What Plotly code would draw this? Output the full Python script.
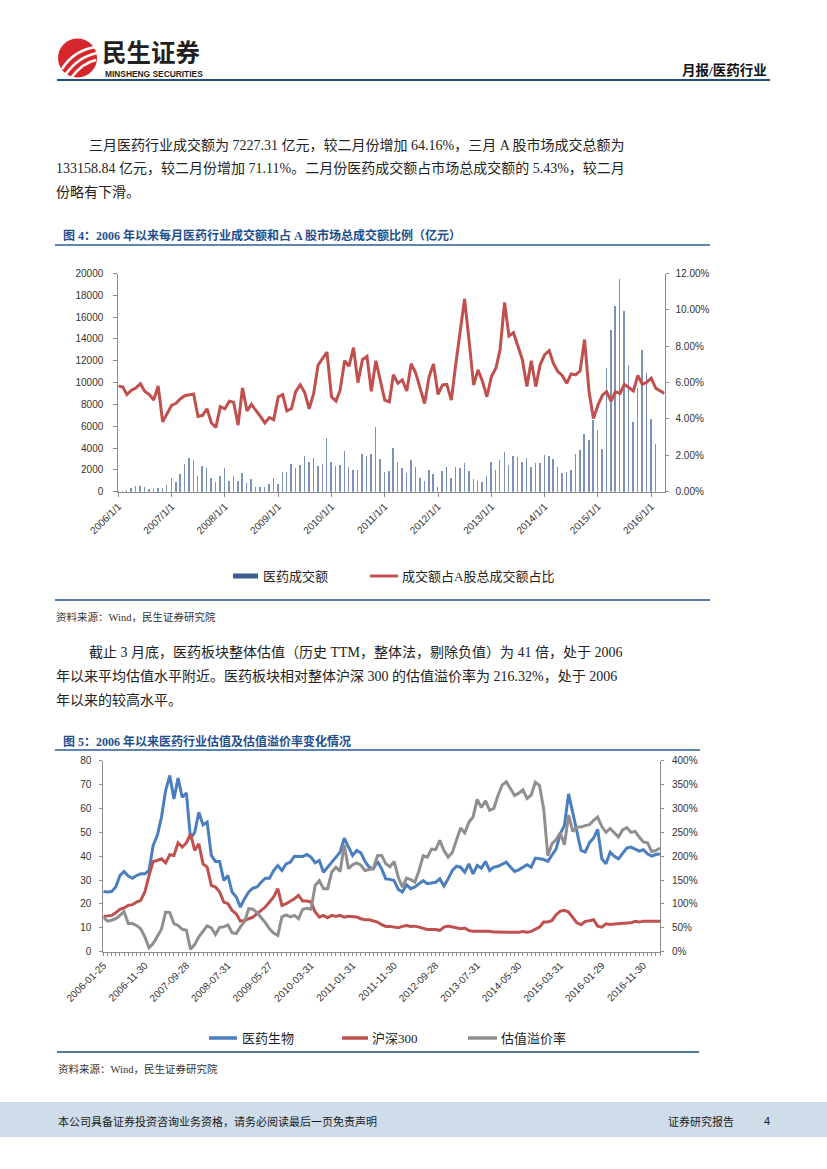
import plotly.graph_objects as go
import pandas as pd

W, H = 827, 1169
def px(x): return x / W
def py(y): return 1 - y / H

# ---------------- Chart 1 data (monthly, 2006/1 - 2016/4) ----------------
turnover = [120,150,200,340,580,580,520,280,280,340,
            430,680,1260,890,1660,2580,3140,2980,1450,2370,
            2180,1290,890,1450,2180,1050,1510,1050,1750,830,
            1200,520,460,490,740,1260,740,1820,1820,2550,
            2215,2520,3290,2740,3110,2430,2600,4980,2800,2430,
            2490,3750,2310,2060,2060,3510,3290,3510,5970,3050,
            1820,1910,4030,2740,2180,1750,2950,2340,1260,1050,
            2060,1660,520,1970,2280,1320,2340,2180,2650,1970,
            1200,1050,950,1510,2740,2060,2950,3660,2520,3290,
            3260,2740,3140,2280,2650,2680,3420,3300,3050,2280,
            1750,1880,2000,3500,3900,5360,4830,6580,5720,3970,
            11360,14890,17050,19510,16590,11660,6430,9570,13050,10890,
            6740,4430,None,None]
ratio = [5.82,5.76,5.34,5.58,5.70,5.94,5.52,5.34,5.04,5.82,
         3.84,4.26,4.74,4.86,5.10,5.28,5.34,5.37,4.14,4.20,
         4.56,3.78,3.54,4.68,4.56,4.98,4.92,3.66,5.70,4.44,
         4.80,4.50,4.14,3.78,4.08,3.96,5.22,5.34,4.44,4.56,
         5.52,5.88,5.46,4.56,5.40,6.96,7.32,7.68,5.22,4.98,
         5.58,7.20,6.90,7.92,6.00,7.26,7.44,5.52,7.20,6.18,
         5.04,4.94,6.43,5.96,6.15,5.54,7.04,6.52,5.69,4.85,
         6.33,7.02,5.35,5.87,5.90,5.04,6.98,8.83,10.60,8.28,
         5.87,6.70,6.06,5.22,6.33,6.80,7.81,10.41,8.56,8.74,
         8.00,7.26,5.78,7.20,5.78,6.98,7.54,7.76,7.07,6.61,
         6.39,5.96,6.48,6.43,6.65,8.37,5.50,4.02,4.76,5.31,
         5.50,4.98,5.50,5.41,5.91,5.72,5.54,6.39,5.91,6.02,
         6.24,5.69,5.54,5.41]
months_1 = [f"{2006 + i // 12}-{i % 12 + 1:02d}-01" for i in range(len(ratio))]
year_ticks_1 = [f"{y}-01-01" for y in range(2006, 2017)]
year_labels_1 = [f"{y}/1/1" for y in range(2006, 2017)]

# ---------------- Chart 2 data (monthly, 2006-01 - 2017-03) ----------------
pharma_pe = [25.2,25.0,25.2,27.1,31.9,33.6,31.7,30.8,31.9,32.6,
             32.6,34.0,44.5,48.7,56.3,67.5,73.8,64.0,72.7,64.7,
             66.5,47.3,50.0,58.4,53.1,54.3,40.3,37.8,37.8,29.8,
             31.9,25.0,22.9,18.7,22.2,25.0,26.6,27.1,29.1,30.8,
             30.8,34.0,36.1,34.0,36.8,37.5,40.0,40.0,39.9,40.7,
             39.6,37.2,38.2,33.3,35.4,37.5,39.6,41.7,47.6,43.8,
             40.3,42.4,41.4,37.8,35.4,34.7,37.8,34.7,30.5,30.3,
             29.8,26.1,25.0,28.0,26.4,27.1,28.5,29.8,28.5,28.9,
             29.1,30.5,27.5,30.5,34.0,35.8,35.4,33.3,36.8,32.6,
             36.1,35.0,37.8,34.0,35.4,35.8,36.8,37.5,35.5,33.6,
             34.3,35.4,36.4,35.4,39.2,38.9,38.6,37.8,40.3,43.1,
             49.4,52.9,66.1,57.7,50.3,42.4,41.7,45.6,47.6,51.2,
             38.9,36.8,41.7,40.0,38.9,41.0,43.4,43.8,43.1,42.1,
             42.7,41.0,40.0,40.7,40.9]
hs300_pe = [14.8,14.9,15.2,16.3,17.7,18.3,19.4,19.7,20.8,21.5,
            25.0,31.9,37.8,38.2,38.9,37.2,40.6,40.3,45.6,43.8,
            45.6,49.4,42.4,45.2,36.8,35.4,27.8,27.1,25.0,20.8,
            20.1,17.3,15.9,12.8,13.1,13.8,14.5,15.9,17.3,18.7,
            20.8,22.9,26.4,19.4,20.1,21.1,22.2,23.6,21.2,21.2,
            20.8,16.6,14.5,15.2,14.2,15.2,14.8,15.2,14.5,14.8,
            14.8,14.5,13.8,13.4,13.4,12.8,12.4,11.3,10.6,10.6,
            10.3,10.0,10.6,11.0,10.6,10.7,10.3,9.9,9.3,9.3,
            9.3,8.9,10.3,10.7,10.3,9.9,9.6,9.9,8.9,8.6,
            8.6,8.9,8.6,8.6,8.2,8.2,8.1,7.9,7.9,7.9,
            8.1,8.5,8.2,8.5,9.3,10.3,12.4,12.4,13.1,15.5,
            17.0,17.3,16.6,14.5,12.1,11.3,12.7,13.0,13.4,10.7,
            10.3,11.7,11.4,11.6,11.7,12.1,12.0,12.1,12.7,12.4,
            12.8,12.8,13.0,13.0,12.8]
premium = [72.5,64,66,69,76,84,59,59,55,48,
           31,8,17,31,47,83,82,59,55,47,
           45,5,15,31,43,54,50,36,51,52,
           56,40,38,52,63,90,89,82,71,61,
           48,39,34,73,77,73,76,69,89,91,
           89,139,149,132,132,167,177,168,224,174,
           182,186,181,170,172,174,201,202,184,178,
           189,156,135,154,151,146,170,201,198,215,
           214,233,212,198,208,235,259,249,271,282,
           319,302,316,296,300,327,349,356,341,327,
           332,339,321,328,355,348,299,201,226,235,
           249,224,286,252,261,261,264,266,275,282,
           262,250,258,248,240,255,260,250,252,240,
           230,228,210,212,217]
tick_labels_2 = ["2006-01-25","2006-11-30","2007-09-28","2008-07-31","2009-05-27",
                 "2010-03-31","2011-01-31","2011-11-30","2012-09-28","2013-07-31",
                 "2014-05-30","2015-03-31","2016-01-29","2016-11-30"]
dates_2 = pd.date_range("2006-01-01", periods=len(pharma_pe), freq="BME").strftime("%Y-%m-%d").tolist()
by_month = {d[:7]: d for d in tick_labels_2}
dates_2 = [by_month.get(d[:7], d) for d in dates_2]
ticktext_2 = [d if d in tick_labels_2 else "" for d in dates_2]

RED = "#c0504d"
BLUE = "#4a7ebf"
GRAY = "#8f8f8f"
AX = "#8c8c8c"
TXT = "#222222"
NAVY = "#1f4e82"
CJK = "Liberation Serif, Noto Sans CJK SC"
SANS = "Liberation Sans, Noto Sans CJK SC"

fig = go.Figure()
fig.add_trace(go.Bar(x=months_1, y=turnover, xaxis="x", yaxis="y",
                     marker=dict(color="#7d92b9", line=dict(width=0)),
                     width=3.5 * 86400000, name="医药成交额"))
fig.add_trace(go.Scatter(x=months_1, y=ratio, xaxis="x", yaxis="y2", mode="lines",
                         line=dict(color=RED, width=3), name="成交额占A股总成交额占比"))
fig.add_trace(go.Scatter(x=dates_2, y=pharma_pe, xaxis="x2", yaxis="y3", mode="lines",
                         line=dict(color=BLUE, width=3), name="医药生物"))
fig.add_trace(go.Scatter(x=dates_2, y=hs300_pe, xaxis="x2", yaxis="y3", mode="lines",
                         line=dict(color=RED, width=3), name="沪深300"))
fig.add_trace(go.Scatter(x=dates_2, y=premium, xaxis="x2", yaxis="y4", mode="lines",
                         line=dict(color=GRAY, width=3), name="估值溢价率"))

tickfont = dict(family=SANS, size=10, color="#333333")
common = dict(showgrid=False, zeroline=False, showline=True, linecolor=AX, linewidth=1,
              ticks="outside", tickcolor=AX, tickfont=tickfont, automargin=False)

fig.update_layout(
    width=W, height=H, margin=dict(l=0, r=0, t=0, b=0, pad=0, autoexpand=False),
    paper_bgcolor="white", plot_bgcolor="white", showlegend=False, bargap=0,
    xaxis=dict(domain=[px(118.3), px(664.5)], anchor="y", type="date",
               range=["2006-01-01", "2016-04-01"], tickmode="array",
               tickvals=year_ticks_1, ticktext=year_labels_1, tickangle=-45, ticklen=4, **common),
    yaxis=dict(domain=[py(491.7), py(273.5)], anchor="x", range=[0, 20000], dtick=2000,
               tickformat="d", ticklen=4, ticklabelstandoff=8, **common),
    yaxis2=dict(overlaying="y", side="right", anchor="x", range=[0, 12], dtick=2,
                tickformat=".2f", ticksuffix="%", ticklen=3, ticklabelstandoff=5, **common),
    xaxis2=dict(domain=[px(103.3), px(660)], anchor="y3", type="category",
                range=[0, len(dates_2) - 1], tickmode="array", tickvals=dates_2,
                ticktext=ticktext_2, tickangle=-45, ticklen=3, **common),
    yaxis3=dict(domain=[py(951.7), py(760.7)], anchor="x2", range=[0, 80], dtick=10,
                ticklen=3, ticklabelstandoff=6, **common),
    yaxis4=dict(overlaying="y3", side="right", anchor="x2", range=[0, 400], dtick=50,
                ticksuffix="%", ticklen=3, ticklabelstandoff=6, **common),
)

shapes = []
def hline(x0, x1, y, color, w):
    shapes.append(dict(type="line", xref="paper", yref="paper", x0=px(x0), x1=px(x1),
                       y0=py(y), y1=py(y), line=dict(color=color, width=w)))
def rect(x0, x1, y0, y1, color):
    shapes.append(dict(type="rect", xref="paper", yref="paper", x0=px(x0), x1=px(x1),
                       y0=py(y1), y1=py(y0), fillcolor=color, line=dict(width=0), layer="below"))

# header logo
shapes.append(dict(type="circle", xref="paper", yref="paper", x0=px(58), x1=px(97),
                   y0=py(77.5), y1=py(38.5), fillcolor="#d7262b", line=dict(width=0)))
for (a, b, c) in [((62, 69), (74, 50), (96, 47)), ((66, 74), (78, 57), (97, 53)),
                  ((71, 78), (82, 63), (96, 60))]:
    path = f"M {px(a[0])},{py(a[1])} Q {px(b[0])},{py(b[1])} {px(c[0])},{py(c[1])}"
    shapes.append(dict(type="path", xref="paper", yref="paper", path=path,
                       line=dict(color="white", width=2.6)))
hline(57, 770, 80, NAVY, 2.2)
hline(55, 710, 245, "#2d5c99", 1.5)
hline(55, 710, 600, NAVY, 1.5)
hline(55, 700, 750, "#2d5c99", 1.5)
hline(57, 699, 1052, NAVY, 1.5)
# legends
rect(233, 258, 573.5, 578.5, "#3d5d8f")
hline(370, 398, 576, RED, 3)
hline(209, 237, 1038, BLUE, 3.5)
hline(342, 368, 1038, RED, 3.5)
hline(468, 497, 1038, GRAY, 3.5)
# footer band
rect(0, 827, 1102, 1137, "#cfdcea")
fig.update_layout(shapes=shapes)

ann = []
def text(x, y, s, size, color=TXT, family=CJK, anchor="left"):
    ann.append(dict(xref="paper", yref="paper", x=px(x), y=py(y), text=s, showarrow=False,
                    xanchor=anchor, yanchor="middle", borderpad=0,
                    font=dict(family=family, size=size, color=color)))

text(101, 51.5, "<b>民生证券</b>", 24.5, "#231f20", "Noto Sans CJK SC")
text(104, 73.5, "<b>MINSHENG SECURITIES</b>", 8.4, "#231f20", "Liberation Sans")
text(768, 70, "<b>月报/医药行业</b>", 13.5, "#111111", CJK, "right")

text(88, 145, "三月医药行业成交额为 7227.31 亿元，较二月份增加 64.16%，三月 A 股市场成交总额为", 14)
text(55, 168, "133158.84 亿元，较二月份增加 71.11%。二月份医药成交额占市场总成交额的 5.43%，较二月", 14)
text(55, 192, "份略有下滑。", 14)
text(62, 235, "<b>图 4：2006 年以来每月医药行业成交额和占 A 股市场总成交额比例（亿元）</b>", 12, "#1f4e8c")
text(262, 576, "医药成交额", 13, "#222222")
text(401, 576, "成交额占A股总成交额占比", 13, "#222222")
text(55, 617, "资料来源：Wind，民生证券研究院", 10.5, "#333333")

text(88, 652, "截止 3 月底，医药板块整体估值（历史 TTM，整体法，剔除负值）为 41 倍，处于 2006", 14)
text(55, 676, "年以来平均估值水平附近。医药板块相对整体沪深 300 的估值溢价率为 216.32%，处于 2006", 14)
text(55, 700, "年以来的较高水平。", 14)
text(62, 741, "<b>图 5：2006 年以来医药行业估值及估值溢价率变化情况</b>", 12, "#1f4e8c")
text(241, 1038, "医药生物", 13, "#222222")
text(371, 1038, "沪深300", 13, "#222222")
text(500, 1038, "估值溢价率", 13, "#222222")
text(57, 1069, "资料来源：Wind，民生证券研究院", 10.5, "#333333")

text(57, 1121, "本公司具备证券投资咨询业务资格，请务必阅读最后一页免责声明", 11, "#1a1a1a", "Noto Sans CJK SC")
text(667, 1121, "证券研究报告", 11, "#1a1a1a", "Noto Sans CJK SC")
text(763, 1121, "4", 11, "#1a1a1a", "Liberation Sans")
fig.update_layout(annotations=ann)

fig.write_html("out.html", config={"displayModeBar": False},
               post_script="document.body.style.margin='0px';document.body.style.overflow='hidden';")
